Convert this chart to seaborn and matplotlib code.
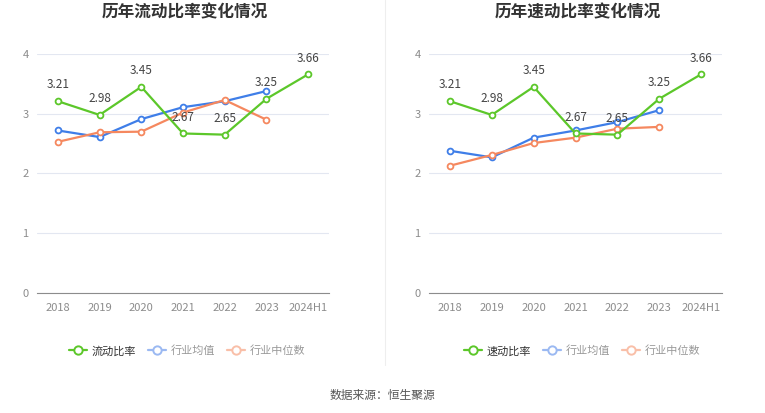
import matplotlib

matplotlib.use("Agg")
import matplotlib.pyplot as plt
import numpy as np
import pandas as pd
import seaborn as sns
from matplotlib.lines import Line2D

years = ["2018", "2019", "2020", "2021", "2022", "2023", "2024H1"]

current_ratio = [3.21, 2.98, 3.45, 2.67, 2.65, 3.25, 3.66]
current_avg = [2.72, 2.61, 2.91, 3.11, 3.21, 3.38]
current_median = [2.53, 2.69, 2.70, 3.02, 3.23, 2.90]

quick_ratio = [3.21, 2.98, 3.45, 2.67, 2.65, 3.25, 3.66]
quick_avg = [2.38, 2.27, 2.60, 2.72, 2.86, 3.06]
quick_median = [2.13, 2.31, 2.51, 2.60, 2.75, 2.78]

titles = ["历年流动比率变化情况", "历年速动比率变化情况"]
main_names = ["流动比率", "速动比率"]
avg_name = "行业均值"
median_name = "行业中位数"
source_text = "数据来源：恒生聚源"

GREEN = "#5cc72a"
BLUE = "#3f7ee8"
ORANGE = "#f5885f"
BLUE_L = "#9bb9f2"
ORANGE_L = "#f9bfa8"

sns.set_style("white")
plt.rcParams["font.family"] = ["Noto Sans CJK SC", "DejaVu Sans"]

fig = plt.figure(figsize=(7.65, 4.13), dpi=100)
# axes in pixel coords: left chart 37..329, right 429..722, y 54..293
W, H = 765, 413
ax_specs = [(37, 329), (429, 722)]
title_x = [185, 578]
legend_x = [187, 582]
y_top, y_bot = 54, 293

panels = [
    (current_ratio, current_avg, current_median),
    (quick_ratio, quick_avg, quick_median),
]

for i, ((x0, x1), (main, avg, med)) in enumerate(zip(ax_specs, panels)):
    ax = fig.add_axes([x0 / W, 1 - y_bot / H, (x1 - x0) / W, (y_bot - y_top) / H])
    pos_main = np.arange(len(main))
    pos_ind = np.arange(len(avg))
    series = [
        (pos_ind, avg, BLUE),
        (pos_ind, med, ORANGE),
        (pos_main, main, GREEN),
    ]
    for xs, ys, col in series:
        df = pd.DataFrame({"x": xs, "y": ys})
        sns.lineplot(
            data=df, x="x", y="y", ax=ax, color=col, linewidth=1.6,
            marker="o", markersize=4.2, markerfacecolor="white",
            markeredgecolor=col, markeredgewidth=1.3, zorder=3,
        )
    for x, v in zip(pos_main, main):
        ax.annotate(f"{v:.2f}", (x, v), xytext=(0, 7), textcoords="offset points",
                    ha="center", va="bottom", fontsize=8.5, color="#444444",
                    zorder=5)

    ax.set_xlim(-0.5, len(years) - 0.5)
    ax.set_ylim(0, 4)
    ax.set_yticks([0, 1, 2, 3, 4])
    ax.set_xticks(np.arange(len(years)))
    ax.set_xticklabels(years)
    ax.set_xlabel("")
    ax.set_ylabel("")
    ax.tick_params(axis="both", labelsize=8, colors="#8c8c8c", length=0, pad=6)
    ax.tick_params(axis="x", length=4, color="#8c8c8c", width=0.8, pad=3)
    ax.grid(axis="y", color="#e3e7f1", linewidth=0.8)
    ax.set_axisbelow(True)
    for s in ["top", "right", "left"]:
        ax.spines[s].set_visible(False)
    ax.spines["bottom"].set_color("#8c8c8c")
    ax.spines["bottom"].set_linewidth(0.8)
    ax.spines["bottom"].set_zorder(1)

    fig.text(title_x[i] / W, 1 - 12 / H, titles[i], ha="center", va="center",
             fontsize=12, fontweight="bold", color="#333333")

    handles = [
        Line2D([0], [0], color=GREEN, lw=1.6, marker="o", markersize=6,
               markerfacecolor="white", markeredgewidth=1.4),
        Line2D([0], [0], color=BLUE_L, lw=1.6, marker="o", markersize=6,
               markerfacecolor="white", markeredgewidth=1.4),
        Line2D([0], [0], color=ORANGE_L, lw=1.6, marker="o", markersize=6,
               markerfacecolor="white", markeredgewidth=1.4),
    ]
    leg = fig.legend(handles, [main_names[i], avg_name, median_name],
                     loc="center", bbox_to_anchor=(legend_x[i] / W, 1 - 351 / H),
                     ncol=3, frameon=False, fontsize=8, handlelength=1.6,
                     handletextpad=0.4, columnspacing=1.1)
    for t, c in zip(leg.get_texts(), ["#333333", "#999999", "#999999"]):
        t.set_color(c)

# divider between the two panels
fig.add_artist(Line2D([385 / W, 385 / W], [1 - 365 / H, 1.0], color="#eeeeee",
                      linewidth=0.8))

fig.text(0.5, 1 - 395 / H, source_text, ha="center", va="center",
         fontsize=8.5, color="#555555")

fig.savefig("out.png", dpi=100)
